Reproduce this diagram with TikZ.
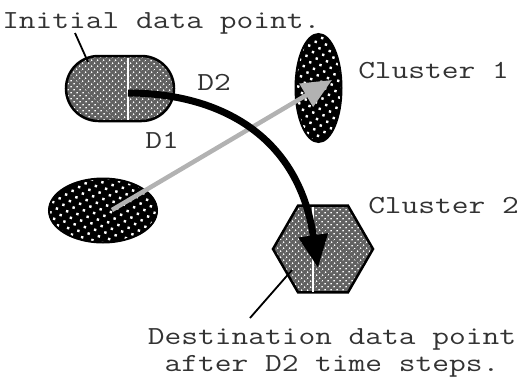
\documentclass[tikz,border=0pt]{standalone}
\usepackage{fontspec}
\usetikzlibrary{arrows.meta,shapes.geometric,shapes.misc,patterns.meta}
\tikzset{
  darkclust/.style={draw=black, line width=2pt, inner sep=0pt,
    preaction={fill=black}, pattern={Dots[distance=7.5pt, radius=1.7pt, angle=30]}, pattern color=white},
  graypt/.style={draw=black, line width=2.5pt, inner sep=0pt,
    preaction={fill=black!62}, pattern={Dots[distance=4pt, radius=1pt, angle=45]}, pattern color=white},
  lbl/.style={font=\ttfamily\fontsize{26}{27}\selectfont, text=black!80, inner sep=0pt, xscale=1.25, transform shape},
  leader/.style={line width=1.8pt},
  centerline/.style={white, line width=1.6pt},
}
\begin{document}
\begin{tikzpicture}[x=1pt,y=-1pt]
\useasboundingbox (0,0) rectangle (522,380);
% shapes
\node[graypt, rounded rectangle, minimum width=108pt, minimum height=65pt] (init) at (120,88.5) {};
\node[darkclust, ellipse, minimum width=46pt, minimum height=108pt] (c1) at (318.5,88) {};
\node[darkclust, ellipse, minimum width=108pt, minimum height=64pt] (c0) at (103,210.5) {};
\node[graypt, regular polygon, regular polygon sides=6, minimum size=100pt] (c2) at (323,249) {};
% centre lines of data points
\coordinate (w1a) at (128,57.5); \coordinate (w1b) at (128,119.5);
\coordinate (w2a) at (313,206.5); \coordinate (w2b) at (313,291.5);
\draw[centerline] (w1a) -- (w1b);
\draw[centerline] (w2a) -- (w2b);
% D1 arrow
\coordinate (d1s) at (112,210);
\coordinate (d1e) at (332,80);
\draw[gray!60, line width=4.5pt, -{Triangle[length=30pt,width=26pt]}] (d1s) -- (d1e);
% D2 arrow
\coordinate (d2s) at (128,93);
\coordinate (d2e) at (318,268);
\draw[line width=7pt, -{Triangle[length=33pt,width=28pt]}] (d2s) .. controls (215,93) and (298,132) .. (d2e);
% labels
\node[lbl, anchor=base west] (tinit) at (2,28) {Initial data point.};
\node[lbl, anchor=base] (td2) at (214,90) {D2};
\node[lbl, anchor=base] (td1) at (162,148) {D1};
\node[lbl, anchor=base west] (tc1) at (358,78) {Cluster 1};
\node[lbl, anchor=base west] (tc2) at (368,213) {Cluster 2};
\node[lbl, align=center, anchor=north] (tdest) at (332,328) {Destination data point\\after D2 time steps.};
% leaders
\coordinate (l1a) at (75,33); \coordinate (l1b) at (88,62);
\draw[leader] (l1a) -- (l1b);
\coordinate (l2a) at (250,318); \coordinate (l2b) at (292,270);
\draw[leader] (l2a) -- (l2b);
\end{tikzpicture}
\end{document}
